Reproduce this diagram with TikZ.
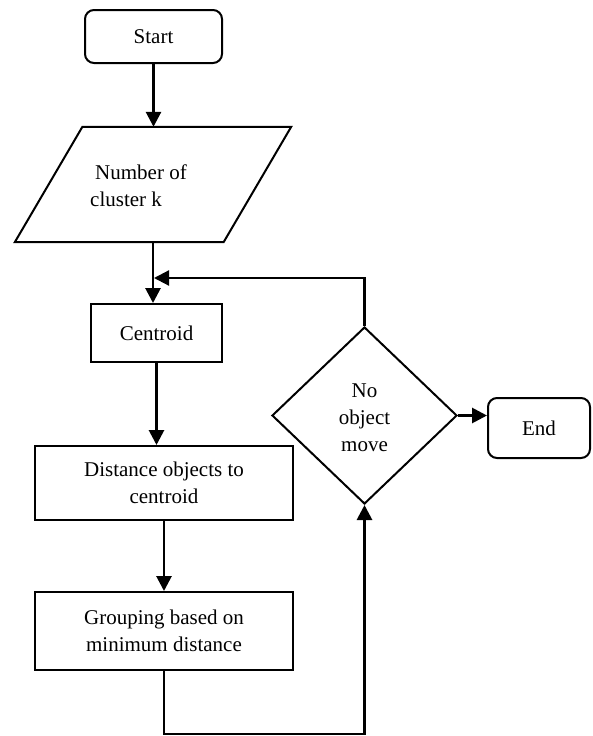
\documentclass[tikz,border=0pt]{standalone}
\usepackage{fontspec}
\setmainfont{Liberation Serif}
\usetikzlibrary{shapes.geometric,arrows.meta,calc}
\begin{document}
\begin{tikzpicture}[x=1pt,y=-1pt,
  every node/.style={font=\fontsize{21}{27}\selectfont},
  boxline/.style={draw=black,line width=2pt},
  procbox/.style={boxline,rectangle,inner sep=0pt,align=center},
  termbox/.style={boxline,rectangle,rounded corners=9pt,inner sep=0pt,align=center},
  decbox/.style={boxline,diamond,inner sep=0pt,align=center},
  arr/.style={line width=2.8pt,-{Triangle[length=15pt,width=15pt]}},
  looparr/.style={line width=2.2pt,-{Triangle[length=15pt,width=15pt]}}]
\useasboundingbox (0,0) rectangle (592,736);
% nodes
\node[termbox,minimum width=137pt,minimum height=53pt] (start) at (153.5,36.5) {Start};
\node[inner sep=0pt,minimum width=276pt,minimum height=115pt] (input) at (153,184.5) {};
\draw[boxline,line join=miter] (input.south west) -- ([xshift=67.6pt]input.north west) -- (input.north east) -- ([xshift=-67.6pt]input.south east) -- cycle;
\node[anchor=west,align=left,inner sep=0pt] (inputtext) at (90,186) {\hspace{5pt}Number of\\cluster k};
\node[procbox,minimum width=131pt,minimum height=58pt] (centroid) at (156.5,333) {Centroid};
\node[procbox,minimum width=258pt,minimum height=74pt] (dist) at (164,483) {Distance objects to\\centroid};
\node[procbox,minimum width=258pt,minimum height=78pt] (group) at (164,631) {Grouping based on\\minimum distance};
\node[decbox,minimum width=185pt,minimum height=177pt] (dec) at (364.5,415.5) {};
\node[align=center,inner sep=0pt] (dectext) at (364.5,418) {No\\object\\move};
\node[termbox,minimum width=102pt,minimum height=60pt] (end) at (539,428) {End};
\coordinate (join) at (154,278);
\coordinate (bot) at (264,734);
% connectors
\draw[arr] (start.south) -- (start.south |- input.north);
\draw[arr] (input.south) -- (input.south |- centroid.north);
\draw[arr] (centroid.south) -- (centroid.south |- dist.north);
\draw[arr] (dist.south) -- (dist.south |- group.north);
\draw[looparr] (dec.north) |- (join);
\draw[arr] (group.south) |- (bot) -| (dec.south);
\draw[arr] (dec.east) -- (dec.east -| end.west);
\end{tikzpicture}
\end{document}
